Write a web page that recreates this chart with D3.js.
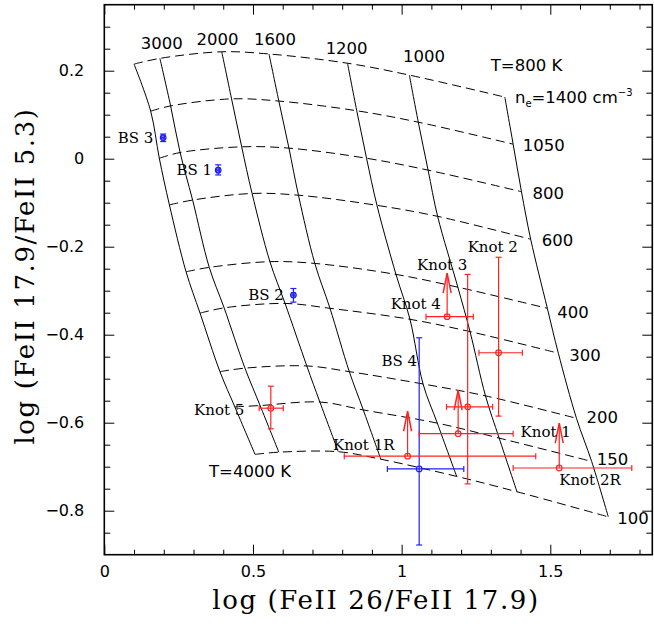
<!DOCTYPE html>
<html lang="en">
<head>
<meta charset="utf-8" />
<title>[Fe II] line-ratio diagnostic grid (D3.js)</title>
<script src="https://d3js.org/d3.v7.min.js"></script>
<style>
  body { margin: 0; background: #fff; }
  svg  { display: block; background: #fff; }
  .tick text  { font-family: "DejaVu Sans", sans-serif; font-size: 16px; fill: #000; }
  .tick line  { stroke: #000; stroke-width: 1; }
  .domain     { display: none; }
  .gridT      { fill: none; stroke: #000; stroke-width: 1; }
  .gridN      { fill: none; stroke: #000; stroke-width: 1; stroke-dasharray: 9 5; }
  .sans       { font-family: "DejaVu Sans", sans-serif; font-size: 16.5px; }
  .serif      { font-family: "DejaVu Serif", serif; font-size: 15px; }
  .title      { font-family: "DejaVu Serif", serif; font-size: 26px; letter-spacing: 1.6px; }
</style>
</head>
<body>
<svg id="chart" width="654" height="626"></svg>
<script>
// ---- grid: temperatures (solid) x densities (dashed)
const temps = [4000, 3000, 2000, 1600, 1200, 1000, 800];
const dens  = [1400, 1050, 800, 600, 400, 300, 200, 150, 100];

// log(FeII 26/17.9) of each node, one row per temperature, columns follow dens
const gridX = [
  [0.100, 0.156, 0.185, 0.219, 0.275, 0.322, 0.389, 0.439, 0.507],
  [0.187, 0.223, 0.255, 0.297, 0.353, 0.403, 0.473, 0.524, 0.587],
  [0.395, 0.428, 0.462, 0.497, 0.557, 0.608, 0.681, 0.725, 0.787],
  [0.554, 0.587, 0.621, 0.653, 0.708, 0.759, 0.824, 0.871, 0.930],
  [0.818, 0.849, 0.882, 0.917, 0.981, 1.028, 1.072, 1.120, 1.185],
  [1.026, 1.056, 1.089, 1.121, 1.189, 1.230, 1.282, 1.328, 1.388],
  [1.347, 1.375, 1.403, 1.434, 1.490, 1.527, 1.588, 1.639, 1.695]
];
// log(FeII 17.9/5.3) of each node
const gridY = [
  [0.215, 0.108, 0.001, -0.105, -0.257, -0.351, -0.484, -0.564, -0.672],
  [0.228, 0.120, 0.014, -0.094, -0.247, -0.339, -0.476, -0.561, -0.667],
  [0.243, 0.136, 0.027, -0.079, -0.234, -0.329, -0.471, -0.553, -0.666],
  [0.238, 0.131, 0.024, -0.083, -0.238, -0.340, -0.484, -0.571, -0.683],
  [0.217, 0.109, 0.001, -0.106, -0.263, -0.365, -0.512, -0.601, -0.722],
  [0.190, 0.083, -0.026, -0.131, -0.292, -0.393, -0.539, -0.635, -0.757],
  [0.140, 0.033, -0.075, -0.183, -0.340, -0.442, -0.590, -0.688, -0.814]
];

// ---- observations
const bsNames = ["BS 3", "BS 1", "BS 2", "BS 4"];
const bsX     = [0.198, 0.383, 0.636, 1.059];
const bsY     = [0.048, -0.026, -0.310, -0.705];
const bsXlo   = [0.193, 0.378, 0.631, 0.952];
const bsXhi   = [0.203, 0.388, 0.641, 1.209];
const bsYlo   = [0.039, -0.037, -0.326, -0.878];
const bsYhi   = [0.056, -0.014, -0.295, -0.407];

const knotX   = [0.560, 1.153, 1.222, 1.326, 1.190, 1.020, 1.530];
const knotY   = [-0.567, -0.359, -0.564, -0.441, -0.625, -0.676, -0.703];
const knotXlo = [0.521, 1.082, 1.151, 1.260, 1.059, 0.807, 1.375];
const knotXhi = [0.602, 1.241, 1.306, 1.406, 1.375, 1.451, 1.774];
const knotYlo = [-0.614, null, -0.739, -0.585, null, null, null];
const knotYhi = [-0.517, null, -0.263, -0.224, null, null, null];
// lower limits: arrow drawn up to this value
const knotLim = [null, -0.260, null, null, -0.526, -0.574, -0.601];

// ---- labels
const tempLabels = ["3000", "2000", "1600", "1200", "1000"];
const tempLabX   = [0.193, 0.381, 0.574, 0.815, 1.075];
const tempLabY   = [0.261, 0.270, 0.270, 0.251, 0.232];

const denLabels  = ["1050", "800", "600", "400", "300", "200", "150", "100"];
const denLabX    = [1.407, 1.440, 1.471, 1.523, 1.564, 1.622, 1.656, 1.725];
const denLabY    = [0.031, -0.078, -0.187, -0.349, -0.448, -0.588, -0.683, -0.817];

const objLabels  = ["BS 1", "BS 2", "BS 4", "Knot 5", "Knot 3", "Knot 4", "Knot 2", "Knot 1R", "Knot 1", "Knot 2R"];
const objLabX    = [0.243, 0.484, 0.932, 0.302, 1.052, 0.963, 1.222, 0.769, 1.400, 1.530];
const objLabY    = [-0.026, -0.310, -0.460, -0.570, -0.242, -0.330, -0.200, -0.651, -0.620, -0.730];

const xTicks = [0, 0.5, 1, 1.5];
const yTicks = [-0.8, -0.6, -0.4, -0.2, 0, 0.2];

// ---- stage
const svg = d3.select("#chart");
const L = 104.3, R = 652.3, T = 4.7, B = 554.7;
const x = d3.scaleLinear().domain([0, 1.843]).range([L, R]);
const y = d3.scaleLinear().domain([-0.9, 0.35]).range([B, T]);

const red = "#ff2222", blue = "#1f1fff";

// ---- axes (ticks inward on all four sides)
const minorX = d3.range(0, 1.84, 0.1).filter(v => Math.abs(v * 2 - Math.round(v * 2)) > 1e-6);
const minorY = d3.range(-0.85, 0.35, 0.05).filter(v => Math.abs(v * 5 - Math.round(v * 5)) > 1e-6);
const fmt = d3.format("~g");

svg.append("g").attr("transform", `translate(0,${B})`)
  .call(d3.axisBottom(x).tickValues(xTicks).tickFormat(fmt).tickSizeInner(-10).tickSizeOuter(0).tickPadding(11));
svg.append("g").attr("transform", `translate(0,${B})`)
  .call(d3.axisBottom(x).tickValues(minorX).tickFormat("").tickSizeInner(-5).tickSizeOuter(0));
svg.append("g").attr("transform", `translate(0,${T})`)
  .call(d3.axisTop(x).tickValues(xTicks).tickFormat("").tickSizeInner(-10).tickSizeOuter(0));
svg.append("g").attr("transform", `translate(0,${T})`)
  .call(d3.axisTop(x).tickValues(minorX).tickFormat("").tickSizeInner(-5).tickSizeOuter(0));

svg.append("g").attr("transform", `translate(${L},0)`)
  .call(d3.axisLeft(y).tickValues(yTicks).tickFormat(fmt).tickSizeInner(-10).tickSizeOuter(0).tickPadding(20));
svg.append("g").attr("transform", `translate(${L},0)`)
  .call(d3.axisLeft(y).tickValues(minorY).tickFormat("").tickSizeInner(-6).tickSizeOuter(0));
svg.append("g").attr("transform", `translate(${R},0)`)
  .call(d3.axisRight(y).tickValues(yTicks).tickFormat("").tickSizeInner(-10).tickSizeOuter(0));
svg.append("g").attr("transform", `translate(${R},0)`)
  .call(d3.axisRight(y).tickValues(minorY).tickFormat("").tickSizeInner(-6).tickSizeOuter(0));

svg.append("rect")
  .attr("x", L).attr("y", T).attr("width", R - L).attr("height", B - T)
  .attr("fill", "none").attr("stroke", "#000").attr("stroke-width", 1.6);

// ---- grid lines
const curve = d3.line().x(d => x(d[0])).y(d => y(d[1])).curve(d3.curveCatmullRom);

svg.append("g").selectAll("path")
  .data(temps.map((t, i) => dens.map((n, j) => [gridX[i][j], gridY[i][j]])))
  .join("path").attr("class", "gridT").attr("d", curve);

svg.append("g").selectAll("path")
  .data(dens.map((n, j) => temps.map((t, i) => [gridX[i][j], gridY[i][j]])))
  .join("path").attr("class", "gridN").attr("d", curve);

// ---- data points with error bars
function drawPoints(g, col, X, Y, Xlo, Xhi, Ylo, Yhi, Lim) {
  X.forEach((v, i) => {
    const cx = x(v), cy = y(Y[i]);
    const p = g.append("g").attr("stroke", col).attr("stroke-width", 1.2).attr("fill", "none");
    // x error bar
    p.append("line").attr("x1", x(Xlo[i])).attr("x2", x(Xhi[i])).attr("y1", cy).attr("y2", cy);
    [Xlo[i], Xhi[i]].forEach(e => p.append("line")
      .attr("x1", x(e)).attr("x2", x(e)).attr("y1", cy - 3).attr("y2", cy + 3));
    // y error bar
    if (Ylo[i] !== null) {
      p.append("line").attr("x1", cx).attr("x2", cx).attr("y1", y(Ylo[i])).attr("y2", y(Yhi[i]));
      [Ylo[i], Yhi[i]].forEach(e => p.append("line")
        .attr("x1", cx - 3).attr("x2", cx + 3).attr("y1", y(e)).attr("y2", y(e)));
    }
    // lower limit arrow
    if (Lim && Lim[i] !== null) {
      const ty = y(Lim[i]);
      p.append("line").attr("x1", cx).attr("x2", cx).attr("y1", cy).attr("y2", ty);
      p.append("path").attr("stroke-width", 1.5)
        .attr("d", `M${cx - 4},${ty + 20}L${cx},${ty}L${cx + 4},${ty + 20}`);
    }
    p.append("circle").attr("cx", cx).attr("cy", cy).attr("r", 2.8);
  });
}

const pts = svg.append("g");
drawPoints(pts, blue, bsX, bsY, bsXlo, bsXhi, bsYlo, bsYhi, null);
drawPoints(pts, red, knotX, knotY, knotXlo, knotXhi, knotYlo, knotYhi, knotLim);

// ---- labels
const lab = svg.append("g").attr("fill", "#000");

tempLabels.forEach((s, i) => lab.append("text").attr("class", "sans")
  .attr("x", x(tempLabX[i])).attr("y", y(tempLabY[i]))
  .attr("text-anchor", "middle").attr("dominant-baseline", "central").text(s));

denLabels.forEach((s, i) => lab.append("text").attr("class", "sans")
  .attr("x", x(denLabX[i])).attr("y", y(denLabY[i]))
  .attr("dominant-baseline", "central").text(s));

lab.append("text").attr("class", "sans")
  .attr("x", x(1.420)).attr("y", y(0.211))
  .attr("text-anchor", "middle").attr("dominant-baseline", "central").text("T=800 K");

lab.append("text").attr("class", "sans")
  .attr("x", x(0.490)).attr("y", y(-0.712))
  .attr("text-anchor", "middle").attr("dominant-baseline", "central").text("T=4000 K");

const ne = lab.append("text").attr("class", "sans")
  .attr("x", x(1.381)).attr("y", y(0.140) + 5.5);
ne.append("tspan").text("n");
ne.append("tspan").attr("font-size", "10px").attr("dy", 4).text("e");
ne.append("tspan").attr("dy", -4).text("=1400 cm");
ne.append("tspan").attr("font-size", "10px").attr("dy", -7).text("−3");

lab.append("text").attr("class", "serif")
  .attr("x", x(0.165)).attr("y", y(0.048))
  .attr("text-anchor", "end").attr("dominant-baseline", "central").text("BS 3");

objLabels.forEach((s, i) => lab.append("text").attr("class", "serif")
  .attr("x", x(objLabX[i])).attr("y", y(objLabY[i]))
  .attr("dominant-baseline", "central").text(s));

// ---- axis titles
svg.append("text").attr("class", "title")
  .attr("x", 376).attr("y", 609).attr("text-anchor", "middle")
  .text("log (FeII 26/FeII 17.9)");

svg.append("text").attr("class", "title")
  .attr("transform", "translate(34,276) rotate(-90)").attr("text-anchor", "middle")
  .text("log (FeII 17.9/FeII 5.3)");
</script>
</body>
</html>
